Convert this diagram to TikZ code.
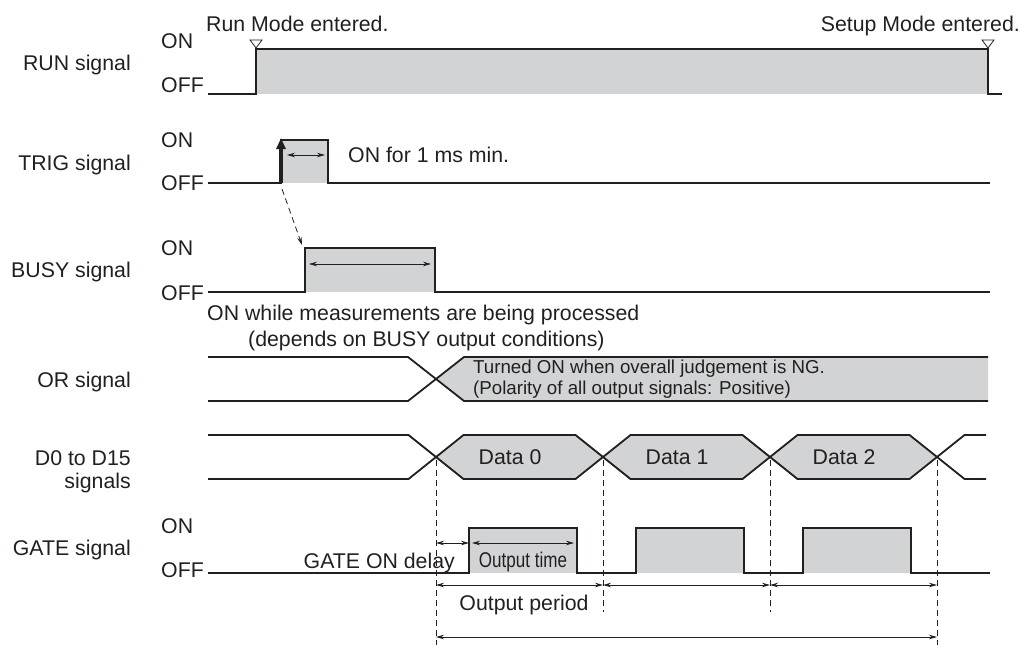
\documentclass[tikz,border=0pt]{standalone}
\usepackage{fontspec}
\setmainfont{Liberation Sans}
\usepackage{graphicx}
\usetikzlibrary{arrows.meta}
\definecolor{ink}{HTML}{231F20}
\definecolor{boxgray}{HTML}{D1D3D4}
\tikzset{sig/.style={draw=ink,line width=1.8pt},
  dim/.style={{Stealth[length=8pt,width=4.5pt]}-{Stealth[length=8pt,width=4.5pt]},draw=ink,line width=.8pt},
  guide/.style={draw=ink,line width=.8pt,dash pattern=on 6pt off 4pt},
  txt/.style={text=ink,inner sep=0pt,font=\fontsize{21.3}{25}\selectfont},
  small/.style={text=ink,inner sep=0pt,font=\fontsize{18.7}{22}\selectfont},
  modetri/.style={draw=ink,fill=white,line width=.8pt}}

\begin{document}
\begin{tikzpicture}[x=1pt,y=-1pt]
  \path[use as bounding box] (0,0) rectangle (1027,645);
  % signal names
  \node[txt,anchor=base east] (runname) at (131,70) {RUN signal};
  \node[txt,anchor=base east] (trigname) at (131,170) {TRIG signal};
  \node[txt,anchor=base east] (busyname) at (131,277) {BUSY signal};
  \node[txt,anchor=base east] (orname) at (131,387) {OR signal};
  \node[txt,anchor=base east] (dname) at (131,465) {D0 to D15};
  \node[txt,anchor=base east] (dname2) at (131,488) {signals};
  \node[txt,anchor=base east] (gatename) at (131,555) {GATE signal};
  \foreach \n/\y in {run/48,trig/147,busy/255,gate/533}
    \node[txt,anchor=base west] (\n-on) at (161,\y) {ON};
  \foreach \n/\y in {run/92,trig/190,busy/300,gate/577}
    \node[txt,anchor=base west] (\n-off) at (161,\y) {OFF};

  % RUN
  \fill[boxgray] (256,49) rectangle (988,94);
  \draw[sig] (208,94) -- (256,94) -- (256,49) -- (988,49) -- (988,94) -- (1002,94);
  \foreach \x in {256,988}
    \draw[modetri] (\x-6,40) -- (\x+6,40) -- (\x,48) -- cycle;
  \node[txt,anchor=base west] (runmode) at (206,31) {Run Mode entered.};
  \node[txt,anchor=base east] (setupmode) at (1020,31) {Setup Mode entered.};

  % TRIG
  \fill[boxgray] (281,140) rectangle (328,183);
  \draw[sig] (208,183) -- (281,183) -- (281,140) -- (328,140) -- (328,183) -- (990,183);
  \coordinate (trigrise) at (281,183);
  \coordinate (trigtop) at (281,138);
  \draw[draw=ink,line width=3.5pt,-{Triangle[length=11pt,width=9pt]}] (trigrise) -- (trigtop);
  \draw[dim] (287,155) -- (325,155);
  \node[txt,anchor=base west] (trigmin) at (348,162) {ON for 1 ms min.};

  % BUSY
  \coordinate (busyrise) at (305,248);
  \fill[boxgray] (busyrise) rectangle (435,292);
  \draw[sig] (208,292) -- (305,292) -- (busyrise) -- (435,248) -- (435,292) -- (990,292);
  \draw[guide,-{Stealth[length=8pt,width=4.5pt]}] ([shift={(1,6)}]trigrise) -- ([shift={(-3,-3)}]busyrise);
  \draw[dim] (309,264) -- (431,264);
  \node[txt,anchor=base west] (busynote) at (207,320) {ON while measurements are being processed};
  \node[txt,anchor=base west] (busycond) at (248,346) {(depends on BUSY output conditions)};

  % OR
  \fill[boxgray] (436,379) -- (464,357) -- (988,357) -- (988,401) -- (464,401) -- cycle;
  \draw[sig] (208,357) -- (408,357) -- (464,401) -- (988,401);
  \draw[sig] (208,401) -- (408,401) -- (464,357) -- (988,357);
  \node[small,anchor=base west] (ornote) at (473,373) {Turned ON when overall judgement is NG.};
  \node[small,anchor=base west] (orpol) at (473,394) {(Polarity of all output signals: Positive)};

  % D0 to D15
  \foreach \c/\t in {436/0,603/1,770/2}{
    \fill[boxgray] (\c,457) -- (\c+27.5,435) -- (\c+139.5,435) -- (\c+167,457)
      -- (\c+139.5,479) -- (\c+27.5,479) -- cycle;
    \node[txt] (data\t) at (\c+74,457) {Data \t};
  }
  \draw[sig] (208,435) -- (408.5,435) -- (463.5,479) -- (575.5,479) -- (630.5,435) -- (742.5,435)
    -- (797.5,479) -- (909.5,479) -- (964.5,435) -- (986,435);
  \draw[sig] (208,479) -- (408.5,479) -- (463.5,435) -- (575.5,435) -- (630.5,479) -- (742.5,479)
    -- (797.5,435) -- (909.5,435) -- (964.5,479) -- (986,479);

  % GATE
  \foreach \c in {436,603,770}
    \fill[boxgray] (\c+33,528) rectangle (\c+141,573);
  \draw[sig] (208,573) -- (469,573) -- (469,528) -- (577,528) -- (577,573) -- (636,573) -- (636,528)
    -- (744,528) -- (744,573) -- (803,573) -- (803,528) -- (911,528) -- (911,573) -- (990,573);
  \foreach \c/\e in {436/645,603/612,770/612,937/645}
    \draw[guide] (\c,460) -- (\c,\e);
  \draw[dim] (436,543) -- (469,543);
  \draw[dim] (472,543) -- (574,543);
  \node[txt,anchor=base east] (gatedelay) at (455,568) {GATE ON delay};
  \node[txt,anchor=base] (outtime) at (523,567) {\scalebox{0.8}[1]{Output time}};
  \foreach \c in {436,603,770}
    \draw[dim] (\c,585) -- (\c+167,585);
  \node[txt,anchor=base] (outperiod) at (524,610) {Output period};
  \draw[dim] (436,637) -- (937,637);
\end{tikzpicture}
\end{document}
